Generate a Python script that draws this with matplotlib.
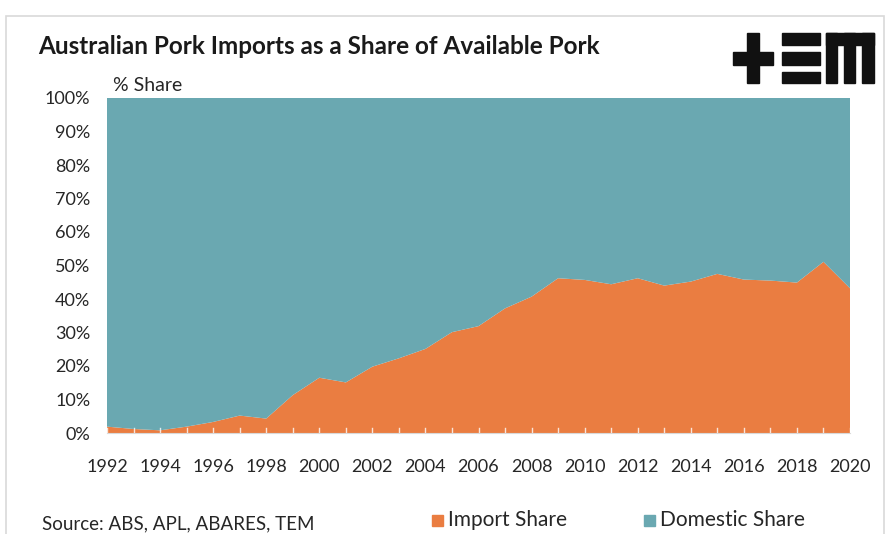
import matplotlib
matplotlib.use("Agg")
import matplotlib.pyplot as plt
from matplotlib.patches import Rectangle
from matplotlib.ticker import FuncFormatter, MultipleLocator

plt.rcParams['font.family'] = ['Lato', 'DejaVu Sans']

years = list(range(1992, 2021))
import_share = [1.9, 1.2, 0.8, 1.9, 3.3, 5.2, 4.3, 11.3, 16.5, 15.1,
                19.8, 22.3, 25.1, 30.1, 31.9, 37.2, 40.7, 46.2, 45.7, 44.4,
                46.2, 44.0, 45.2, 47.5, 45.8, 45.5, 44.9, 51.1, 43.2]
domestic_share = [100 - v for v in import_share]

ORANGE = "#EA7D41"
TEAL = "#6AA8B1"

fig = plt.figure(figsize=(8.87, 5.34), dpi=100)
W, H = 887, 534

# Outer chart frame
fig.patches.append(Rectangle((6 / W, -0.05), (884 - 6) / W, 1.05 - 16 / H,
                             transform=fig.transFigure, fill=False,
                             edgecolor="#D9D9D9", linewidth=1.2))

ax = fig.add_axes([107 / W, 1 - 433 / H, (850 - 107) / W, (433 - 98) / H])
ax.stackplot(years, import_share, domestic_share, colors=[ORANGE, TEAL],
             linewidth=0)

ax.set_xlim(1992, 2020)
ax.set_ylim(0, 100)
ax.xaxis.set_major_locator(MultipleLocator(2))
ax.yaxis.set_major_locator(MultipleLocator(10))
ax.yaxis.set_major_formatter(FuncFormatter(lambda v, i: f"{v:.0f}%"))

# small white year ticks inside the area
for y in years:
    ax.plot([y, y], [0, 1.6], color="white", linewidth=1, alpha=0.8)

ax.tick_params(axis="both", length=0, labelsize=13, colors="#262626")
ax.tick_params(axis="x", pad=19)
ax.tick_params(axis="y", pad=12)
for s in ["top", "right", "left"]:
    ax.spines[s].set_visible(False)
ax.spines["bottom"].set_color("#D9D9D9")

fig.text(38 / W, 1 - 47 / H, "Australian Pork Imports as a Share of Available Pork",
         fontsize=17.5, fontweight="bold", va="center", ha="left", color="#1a1a1a")
fig.text(113 / W, 1 - 85 / H, "% Share", fontsize=14, va="center", ha="left",
         color="#262626")

# TEM logo drawn from bars (pixel boxes: x0, y0, x1, y1)
logo = [
    (747, 33, 759, 83), (733, 52, 773, 65),
    (782, 33, 820, 45), (782, 52, 820, 65), (782, 72, 820, 83),
    (826, 33, 874, 45), (826, 33, 837, 83), (844, 33, 855, 83), (862, 33, 874, 83),
]
for x0, y0, x1, y1 in logo:
    fig.patches.append(Rectangle((x0 / W, 1 - y1 / H), (x1 - x0) / W, (y1 - y0) / H,
                                 transform=fig.transFigure, color="#111111"))

# legend
for x, label, c in [(432, "Import Share", ORANGE), (644, "Domestic Share", TEAL)]:
    fig.patches.append(Rectangle((x / W, 1 - 526 / H), 11 / W, 11 / H,
                                 transform=fig.transFigure, color=c))
    fig.text((x + 16) / W, 1 - 520 / H, label, fontsize=15, va="center",
             ha="left", color="#262626")

fig.text(42 / W, 1 - 524 / H, "Source: ABS, APL, ABARES, TEM", fontsize=13.5,
         va="center", ha="left", color="#262626")

fig.savefig("out.png", dpi=100)
